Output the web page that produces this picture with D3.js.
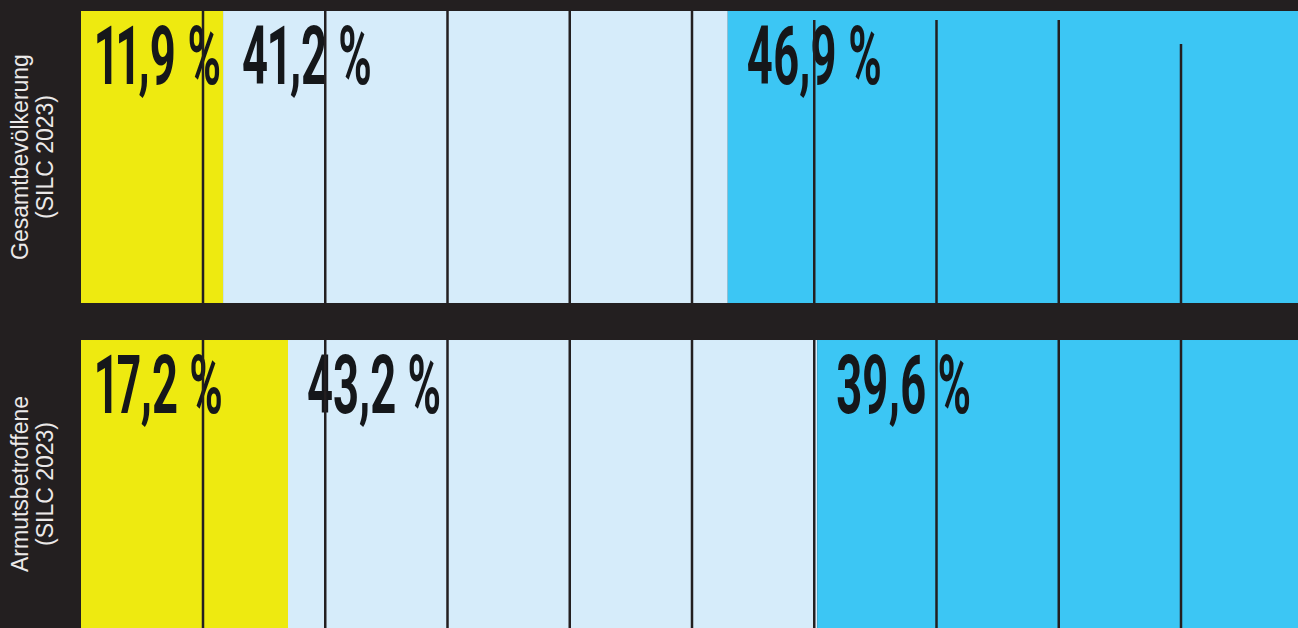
<!DOCTYPE html>
<html>
  <head>
    <meta charset="utf-8">
    <title>Einkommensverteilung</title>
    <script src="https://d3js.org/d3.v7.min.js"></script>
    <style>
      html, body { margin: 0; padding: 0; background: #231f20; }
      svg { display: block; }
      .val { font-variant-numeric: proportional-nums; font-feature-settings: "pnum" 1; }
    </style>
  </head>
  <body>
    <div id="chart"></div>
    <script>
      // groups (rows) and their labels
      var groups = ["Gesamtbevölkerung", "Armutsbetroffene"];
      var groupSub = ["(SILC 2023)", "(SILC 2023)"];
      // share per segment, in percent
      var segments = ["a", "b", "c"];
      var values = [
        [11.9, 41.2, 46.9],
        [17.2, 43.2, 39.6]
      ];
      var valueLabels = [
        ["11,9 %", "41,2 %", "46,9 %"],
        ["17,2 %", "43,2 %", "39,6 %"]
      ];
      var gridTicks = [10, 20, 30, 40, 50, 60, 70, 80, 90];

      var width = 1298, height = 628;
      var dark = "#231f20";
      var colors = ["#eeea10", "#d6ecfa", "#3cc6f4"];

      var svg = d3.select("#chart").append("svg")
        .attr("width", width)
        .attr("height", height);

      svg.append("rect")
        .attr("width", width)
        .attr("height", height)
        .attr("fill", dark);

      // bars and grid are slightly offset from each other in the original
      var x = d3.scaleLinear().domain([0, 100]).range([77.3, 1302.3]);
      var xGrid = d3.scaleLinear().domain([0, 100]).range([80.75, 1303.25]);

      var y = d3.scaleBand().domain(groups).range([11, 632]).paddingInner(0.1125);

      svg.append("clipPath").attr("id", "plot")
        .append("rect")
        .attr("x", 81).attr("y", 0)
        .attr("width", width - 81).attr("height", height);

      var plot = svg.append("g").attr("clip-path", "url(#plot)");

      var rows = plot.selectAll("g.row")
        .data(groups)
        .enter().append("g")
        .attr("class", "row")
        .attr("transform", function(d) { return "translate(0," + y(d) + ")"; });

      rows.each(function(g, gi) {
        var row = d3.select(this);
        var acc = 0;
        var segs = values[gi].map(function(v, si) {
          var s = { start: acc, end: acc + v, color: colors[si], label: valueLabels[gi][si] };
          acc += v;
          return s;
        });

        row.selectAll("rect.seg")
          .data(segs)
          .enter().append("rect")
          .attr("class", "seg")
          .attr("x", function(d) { return x(d.start); })
          .attr("width", function(d) { return x(d.end) - x(d.start); })
          .attr("y", 0)
          .attr("height", y.bandwidth())
          .attr("fill", function(d) { return d.color; });

        // big condensed percentage labels
        row.selectAll("text.val")
          .data(segs)
          .enter().append("text")
          .attr("class", "val")
          .attr("transform", function(d, i) {
            var tx = i === 0 ? 95 : x(d.start) + 19;
            return "translate(" + tx + ",73) scale(0.56,1)";
          })
          .attr("font-family", "Roboto, 'DejaVu Sans', sans-serif")
          .attr("font-weight", 700)
          .attr("font-size", 81)
          .attr("fill", "#15171a")
          .text(function(d) { return d.label; });

        // grid lines on top; in the first row the right ones start lower
        var topStart = gi === 0 ? [0, 0, 0, 0, 0, 9, 9, 9, 33] : [0, 0, 0, 0, 0, 0, 0, 0, 0];
        row.selectAll("line.grid")
          .data(gridTicks)
          .enter().append("line")
          .attr("class", "grid")
          .attr("x1", function(d) { return xGrid(d); })
          .attr("x2", function(d) { return xGrid(d); })
          .attr("y1", function(d, i) { return topStart[i]; })
          .attr("y2", y.bandwidth())
          .attr("stroke", dark)
          .attr("stroke-width", 2.5);
      });

      // rotated row labels on the left
      var lab = svg.selectAll("g.lab")
        .data(groups)
        .enter().append("g")
        .attr("class", "lab")
        .attr("transform", function(d) {
          var cy = y(d) + Math.min(y.bandwidth(), height - y(d)) / 2;
          return "translate(41," + cy + ") rotate(-90)";
        });

      lab.append("text")
        .attr("text-anchor", "middle")
        .attr("font-family", "'Liberation Sans', Arial, sans-serif")
        .attr("font-size", 23)
        .attr("fill", "#ece9e9")
        .each(function(d, i) {
          var t = d3.select(this);
          t.append("tspan").attr("x", 0).attr("y", -13).text(d);
          t.append("tspan").attr("x", 0).attr("y", 12).text(groupSub[i]);
        });
    </script>
  </body>
</html>
